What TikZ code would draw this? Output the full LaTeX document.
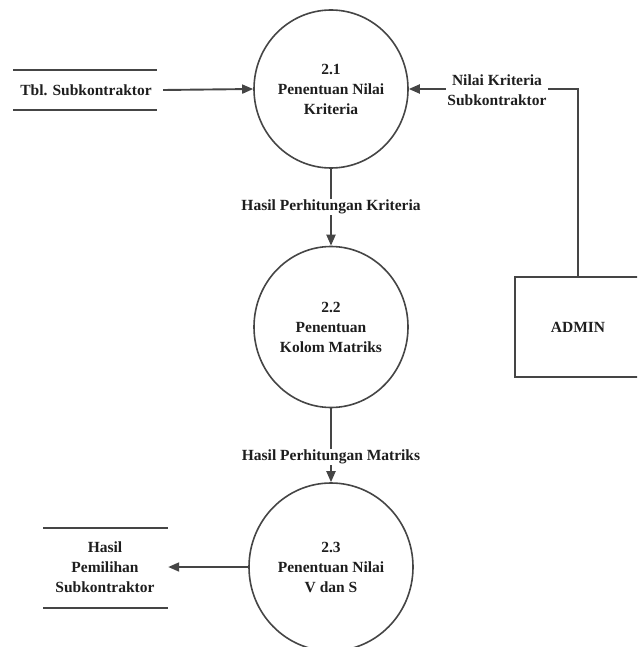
\documentclass[tikz,border=0pt]{standalone}
\usepackage{fontspec}
\setmainfont{Liberation Serif}
\usetikzlibrary{shapes.geometric,arrows.meta}
\definecolor{ln}{HTML}{454545}
\definecolor{tx}{HTML}{1E1E1E}
\tikzset{
  every node/.style={font=\fontsize{15.5}{20}\selectfont\bfseries, text=tx},
  proc/.style={ellipse, draw=ln, line width=1.6pt, inner sep=0pt, align=center},
  flow/.style={draw=ln, line width=1.9pt, -{Triangle[length=11pt,width=9pt]}},
  storeline/.style={draw=ln, line width=2.2pt},
  lbl/.style={fill=white, inner sep=1pt, align=center},
  ent/.style={draw=ln, line width=1.8pt, minimum width=126pt, minimum height=100pt, inner sep=0pt}
}
\begin{document}
\begin{tikzpicture}[x=1pt,y=-1pt]
\useasboundingbox (0,0) rectangle (637,647);
\begin{scope}
\clip (0,0) rectangle (637,647);
\node[proc, minimum width=154pt, minimum height=158pt] (p21) at (331,89) {2.1\\Penentuan Nilai\\Kriteria};
\node[proc, minimum width=154pt, minimum height=161pt] (p22) at (331,327) {2.2\\Penentuan\\Kolom Matriks};
\node[proc, minimum width=164pt, minimum height=168pt] (p23) at (331,567) {2.3\\Penentuan Nilai\\V dan S};
\node[ent] (admin) at (578,327) {ADMIN};
\node[minimum width=154pt, inner sep=0pt] (ts) at (86,90) {Tbl. Subkontraktor};
\node[minimum width=126pt, inner sep=0pt, align=center] (hp) at (105,567) {Hasil\\Pemilihan\\Subkontraktor};
\draw[storeline] (13,70) -- (157,70);
\draw[storeline] (13,110) -- (157,110);
\draw[storeline] (43,528) -- (168,528);
\draw[storeline] (43,608) -- (168,608);
\draw[flow] (ts.east) -- (p21.west);
\draw[flow] (p21.south) -- (p22.north);
\node[lbl] (l1) at (331,207) {Hasil Perhitungan Kriteria};
\draw[flow] (p22.south) -- (p23.north);
\node[lbl] (l2) at (331,457) {Hasil Perhitungan Matriks};
\draw[flow] (p23.west) -- (hp.east);
\draw[flow] (admin.north) |- (p21.east);
\node[lbl] (l3) at (497,90) {Nilai Kriteria\\Subkontraktor};
\end{scope}
\end{tikzpicture}
\end{document}
